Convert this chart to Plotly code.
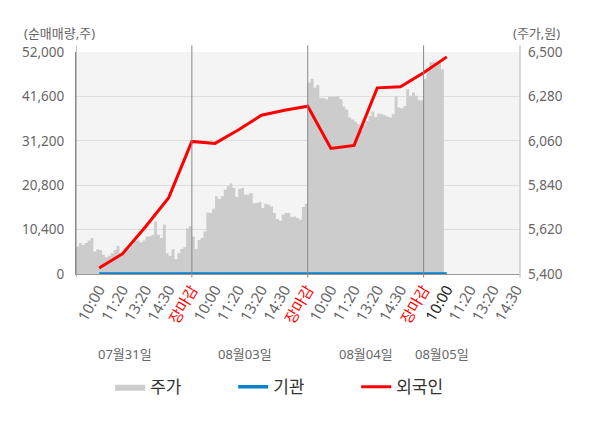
import plotly.graph_objects as go

# ---------------- data ----------------
days = ["07월31일", "08월03일", "08월04일", "08월05일"]
slot_labels = ["10:00", "11:20", "13:20", "14:30", "장마감"]

# 주가 (right axis, intraday, 8 samples per slot)
price_day1 = [5536, 5553, 5544, 5553, 5566, 5578, 5511, 5523, 5519, 5495,
              5483, 5490, 5503, 5519, 5539, 5506, 5511, 5523, 5528, 5544,
              5564, 5566, 5556, 5566, 5586, 5586, 5594, 5660, 5594, 5578,
              5644, 5503, 5490, 5523, 5473, 5503, 5524, 5533, 5627, 5636]
price_day2 = [5586, 5524, 5569, 5578, 5611, 5705, 5702, 5723, 5785, 5772,
              5785, 5818, 5835, 5848, 5826, 5782, 5821, 5826, 5793, 5793,
              5801, 5752, 5752, 5757, 5727, 5748, 5743, 5735, 5702, 5672,
              5664, 5694, 5702, 5702, 5682, 5685, 5677, 5669, 5732, 5748]
price_day3 = [6349, 6366, 6324, 6337, 6271, 6271, 6266, 6278, 6278, 6279,
              6281, 6266, 6230, 6215, 6175, 6166, 6155, 6142, 6112, 6138,
              6158, 6183, 6205, 6178, 6195, 6191, 6188, 6180, 6175, 6191,
              6278, 6225, 6221, 6233, 6316, 6283, 6299, 6283, 6261, 6261]
price_day4 = [6366, 6410, 6449, 6449, 6445, 6449, 6415, 6374]

# 순매매량 누적 (left axis), one value per time slot
foreign = [1412, 4706, 11059, 17883, 31060, 30590, 33720, 37177, 38354, 39295,
           29413, 30118, 43600, 43850, 47150, 50860]
institution = [0] * 16

# ---------------- build ----------------
SAMPLES_PER_SLOT = 8
SLOTS_PER_DAY = len(slot_labels)
price_days = [price_day1, price_day2, price_day3, price_day4]

price_x, price_y = [], []
for d, arr in enumerate(price_days):
    for i, v in enumerate(arr):
        price_x.append(d * SLOTS_PER_DAY + i / SAMPLES_PER_SLOT)
        price_y.append(v)

flow_x = list(range(1, len(foreign) + 1))

tickvals, ticktext = [], []
for d in range(len(days)):
    for s, lab in enumerate(slot_labels):
        pos = d * SLOTS_PER_DAY + s + 1
        if pos > 19:
            continue
        tickvals.append(pos)
        if lab == "장마감":
            ticktext.append("<span style='color:#ff0000'>장마감</span>")
        elif d == len(days) - 1 and s == 0:
            ticktext.append("<span style='color:#222222'>%s</span>" % lab)
        else:
            ticktext.append(lab)

FONT = "Noto Sans, Noto Sans CJK KR"
fig = go.Figure()
fig.add_trace(go.Scatter(
    x=price_x, y=price_y, name="주가", yaxis="y",
    mode="lines", line=dict(width=0, color="#cccccc", shape="hv"),
    fill="tozeroy", fillcolor="#cccccc",
))
fig.add_trace(go.Scatter(
    x=flow_x, y=institution, name="기관", yaxis="y2",
    mode="lines", line=dict(width=3.5, color="#0a7fcc"),
))
fig.add_trace(go.Scatter(
    x=flow_x, y=foreign, name="외국인", yaxis="y2",
    mode="lines", line=dict(width=3, color="#ff0000"),
))

left_ticks = [0, 10400, 20800, 31200, 41600, 52000]
right_ticks = [5400, 5620, 5840, 6060, 6280, 6500]

x_max = 19.16
shapes = []
for xv in [0, 5, 10, 15]:
    shapes.append(dict(type="line", xref="x", yref="paper", x0=xv, x1=xv,
                       y0=-0.016, y1=1.03, line=dict(color="#888888", width=1)))
shapes.append(dict(type="line", xref="paper", yref="paper", x0=1, x1=1,
                   y0=-0.016, y1=1.03, line=dict(color="#cccccc", width=1.5)))

date_label_pos = [2.1, 7.3, 12.5, 15.8]
annotations = []
for pos, lab in zip(date_label_pos, days):
    annotations.append(dict(x=pos, y=-0.41, xref="x", yref="paper", text=lab,
                            showarrow=False, font=dict(size=13, color="#666666", family=FONT)))
annotations.append(dict(x=-0.122, y=1.086, xref="paper", yref="paper", text="(순매매량,주)",
                        showarrow=False, xanchor="left", yanchor="middle",
                        font=dict(size=13, color="#666666", family=FONT)))
annotations.append(dict(x=1.095, y=1.086, xref="paper", yref="paper", text="(주가,원)",
                        showarrow=False, xanchor="right", yanchor="middle",
                        font=dict(size=13, color="#666666", family=FONT)))

# page body adds an 8px offset, margins compensate
fig.update_layout(
    width=600, height=428,
    margin=dict(l=68, r=88, t=44, b=162, autoexpand=False),
    paper_bgcolor="white", plot_bgcolor="#f4f4f4",
    font=dict(family=FONT, color="#666666", size=13),
    showlegend=True,
    legend=dict(orientation="h", x=0.077, xanchor="left", y=-0.51, yanchor="middle",
                font=dict(size=17, color="#333333"), entrywidth=78,
                itemwidth=30, traceorder="normal"),
    xaxis=dict(range=[0, x_max], tickvals=tickvals, ticktext=ticktext,
               tickangle=-60, showgrid=False, zeroline=False, ticks="",
               showline=True, linecolor="#999999", linewidth=1, automargin=False,
               tickfont=dict(size=15, color="#666666")),
    yaxis=dict(range=[5400, 6500], tickvals=right_ticks, tickformat=",",
               side="right", showgrid=True, gridcolor="#dddddd", gridwidth=1,
               zeroline=False, ticks="", ticklabelstandoff=7, automargin=False,
               tickfont=dict(size=13.5, color="#666666")),
    yaxis2=dict(range=[0, 52000], tickvals=left_ticks, tickformat=",",
                side="left", overlaying="y", showgrid=False, zeroline=False,
                ticks="", ticklabelstandoff=8, automargin=False,
                showline=True, linecolor="#888888",
                tickfont=dict(size=13.5, color="#666666")),
    shapes=shapes, annotations=annotations,
)

fig.write_html("out.html")
